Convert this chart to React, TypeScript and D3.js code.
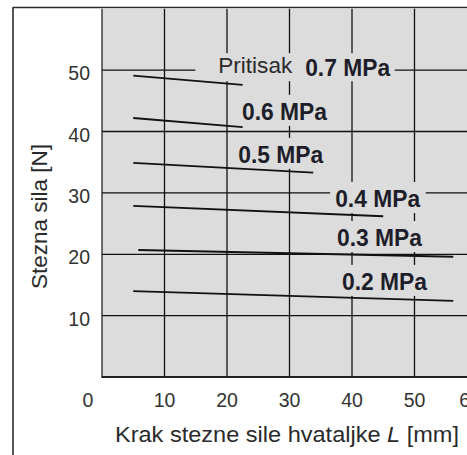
import React, { useEffect, useRef } from "react";
import * as d3 from "d3";

const W = 467;
const H = 455;

// Series: pressure curves (clamping force vs. arm length)
const pressures = ["0.7 MPa", "0.6 MPa", "0.5 MPa", "0.4 MPa", "0.3 MPa", "0.2 MPa"];
const lengthStart = [5, 5, 5, 5, 5.8, 5];
const lengthEnd = [22.5, 22.5, 33.8, 45, 56.2, 56.2];
const forceStart = [49.1, 42.2, 34.9, 27.9, 20.7, 14.0];
const forceEnd = [47.6, 40.7, 33.3, 26.2, 19.6, 12.4];

// Label anchors (data units)
const labelX = [32.5, 22.4, 21.8, 37.3, 37.6, 38.4];
const labelY = [49.0, 41.9, 34.9, 27.7, 21.35, 14.2];
const prefixText = "Pritisak";
const prefixX = 18.6;
const prefixY = 49.5;

const xTicks = [10, 20, 30, 40, 50, 60];
const yTicks = [10, 20, 30, 40, 50];

const xTitle = "Krak stezne sile hvataljke";
const xTitleVar = "L";
const xTitleUnit = "[mm]";
const yTitle = "Stezna sila [N]";

export default function App() {
  const ref = useRef<SVGSVGElement | null>(null);

  useEffect(() => {
    const svg = d3.select(ref.current);
    svg.selectAll("*").remove();

    const x = d3.scaleLinear().domain([0, 60]).range([102, 477]);
    const y = d3.scaleLinear().domain([0, 60]).range([377.1, 8.7]);

    const font = "'Liberation Sans', Arial, Helvetica, sans-serif";
    const plotFill = "#dcdcdc";
    const ink = "#1e1e2a";

    // outer frame
    svg.append("line").attr("x1", 13).attr("x2", 13).attr("y1", 7).attr("y2", H + 2)
      .attr("stroke", "#2a2a2a").attr("stroke-width", 1.6);
    svg.append("line").attr("x1", 13).attr("x2", W + 2).attr("y1", 7.5).attr("y2", 7.5)
      .attr("stroke", "#2a2a2a").attr("stroke-width", 1.6);

    // plot background
    svg.append("rect").attr("x", x(0)).attr("y", y(60)).attr("width", x(60) + 5 - x(0))
      .attr("height", y(0) - y(60)).attr("fill", plotFill);

    // grid
    const grid = svg.append("g").attr("stroke", "#111").attr("stroke-width", 1.3);
    xTicks.forEach((t) => {
      grid.append("line").attr("x1", x(t)).attr("x2", x(t)).attr("y1", y(60)).attr("y2", y(0));
    });
    yTicks.forEach((t) => {
      grid.append("line").attr("x1", x(0)).attr("x2", W + 5).attr("y1", y(t)).attr("y2", y(t));
    });

    // plot border
    svg.append("line").attr("x1", x(0)).attr("x2", x(0)).attr("y1", y(60)).attr("y2", y(0))
      .attr("stroke", "#222").attr("stroke-width", 1.3);
    svg.append("line").attr("x1", x(0) - 0.6).attr("x2", W + 5).attr("y1", y(0)).attr("y2", y(0))
      .attr("stroke", "#222").attr("stroke-width", 2);

    // labels (with background boxes masking grid)
    const boxLayer = svg.append("g");
    const lineLayer = svg.append("g");
    const textLayer = svg.append("g").attr("font-family", font).attr("fill", ink);

    const prefix = textLayer.append("text")
      .attr("x", x(prefixX)).attr("y", y(prefixY))
      .attr("font-size", 22.5).attr("font-weight", "normal").attr("fill", "#2a2a2a")
      .attr("textLength", 74).attr("lengthAdjust", "spacingAndGlyphs")
      .text(prefixText);

    const labelNodes = pressures.map((p, i) =>
      textLayer.append("text")
        .attr("x", x(labelX[i])).attr("y", y(labelY[i]))
        .attr("font-size", 24).attr("font-weight", "bold")
        .attr("textLength", 85).attr("lengthAdjust", "spacingAndGlyphs")
        .text(p)
    );

    const addBox = (bx: number, by: number, bw: number, bh: number) => {
      boxLayer.append("rect")
        .attr("x", bx).attr("y", by).attr("width", bw).attr("height", bh)
        .attr("fill", plotFill);
    };

    // combined box for "Pritisak 0.7 MPa"
    const pb = (prefix.node() as SVGTextElement).getBBox();
    const b7 = (labelNodes[0].node() as SVGTextElement).getBBox();
    const left = pb.x - 23;
    const right = b7.x + b7.width + 4;
    const top = Math.min(pb.y, b7.y);
    const bottom = Math.max(pb.y + pb.height, b7.y + b7.height);
    addBox(left, top, right - left, bottom - top);
    labelNodes.slice(1).forEach((n) => {
      const bb = (n.node() as SVGTextElement).getBBox();
      addBox(bb.x - 5, bb.y - 3, bb.width + 10, bb.height + 4);
    });

    // series lines
    pressures.forEach((_, i) => {
      const pts: [number, number][] = [
        [lengthStart[i], forceStart[i]],
        [lengthEnd[i], forceEnd[i]],
      ];
      lineLayer.append("path")
        .attr("d", d3.line<[number, number]>().x((d) => x(d[0])).y((d) => y(d[1]))(pts) as string)
        .attr("fill", "none").attr("stroke", "#111").attr("stroke-width", 1.8);
    });

    // tick labels
    const ticks = svg.append("g").attr("font-family", font).attr("font-size", 19.5).attr("fill", "#333");
    yTicks.forEach((t) => {
      ticks.append("text").attr("x", 90).attr("y", y(t) + 10).attr("text-anchor", "end").text(String(t));
    });
    ticks.append("text").attr("x", 88).attr("y", 407).attr("text-anchor", "middle").text("0");
    xTicks.forEach((t) => {
      ticks.append("text").attr("x", Math.min(x(t), 470)).attr("y", 407)
        .attr("text-anchor", "middle").text(String(t));
    });

    // axis titles
    const xt = svg.append("text").attr("x", 115).attr("y", 442)
      .attr("font-family", font).attr("font-size", 22).attr("fill", "#2a2a2a")
      .attr("textLength", 344).attr("lengthAdjust", "spacingAndGlyphs");
    xt.append("tspan").text(xTitle + "  ");
    xt.append("tspan").attr("font-style", "italic").text(xTitleVar);
    xt.append("tspan").text(" " + xTitleUnit);

    svg.append("text")
      .attr("transform", "translate(47,216.5) rotate(-90)")
      .attr("text-anchor", "middle")
      .attr("font-family", font).attr("font-size", 22.5).attr("fill", "#2a2a2a")
      .text(yTitle);
  }, []);

  return (
    <svg
      ref={ref}
      width={W}
      height={H}
      style={{ position: "absolute", left: 0, top: 0, background: "#fff", display: "block" }}
    />
  );
}
